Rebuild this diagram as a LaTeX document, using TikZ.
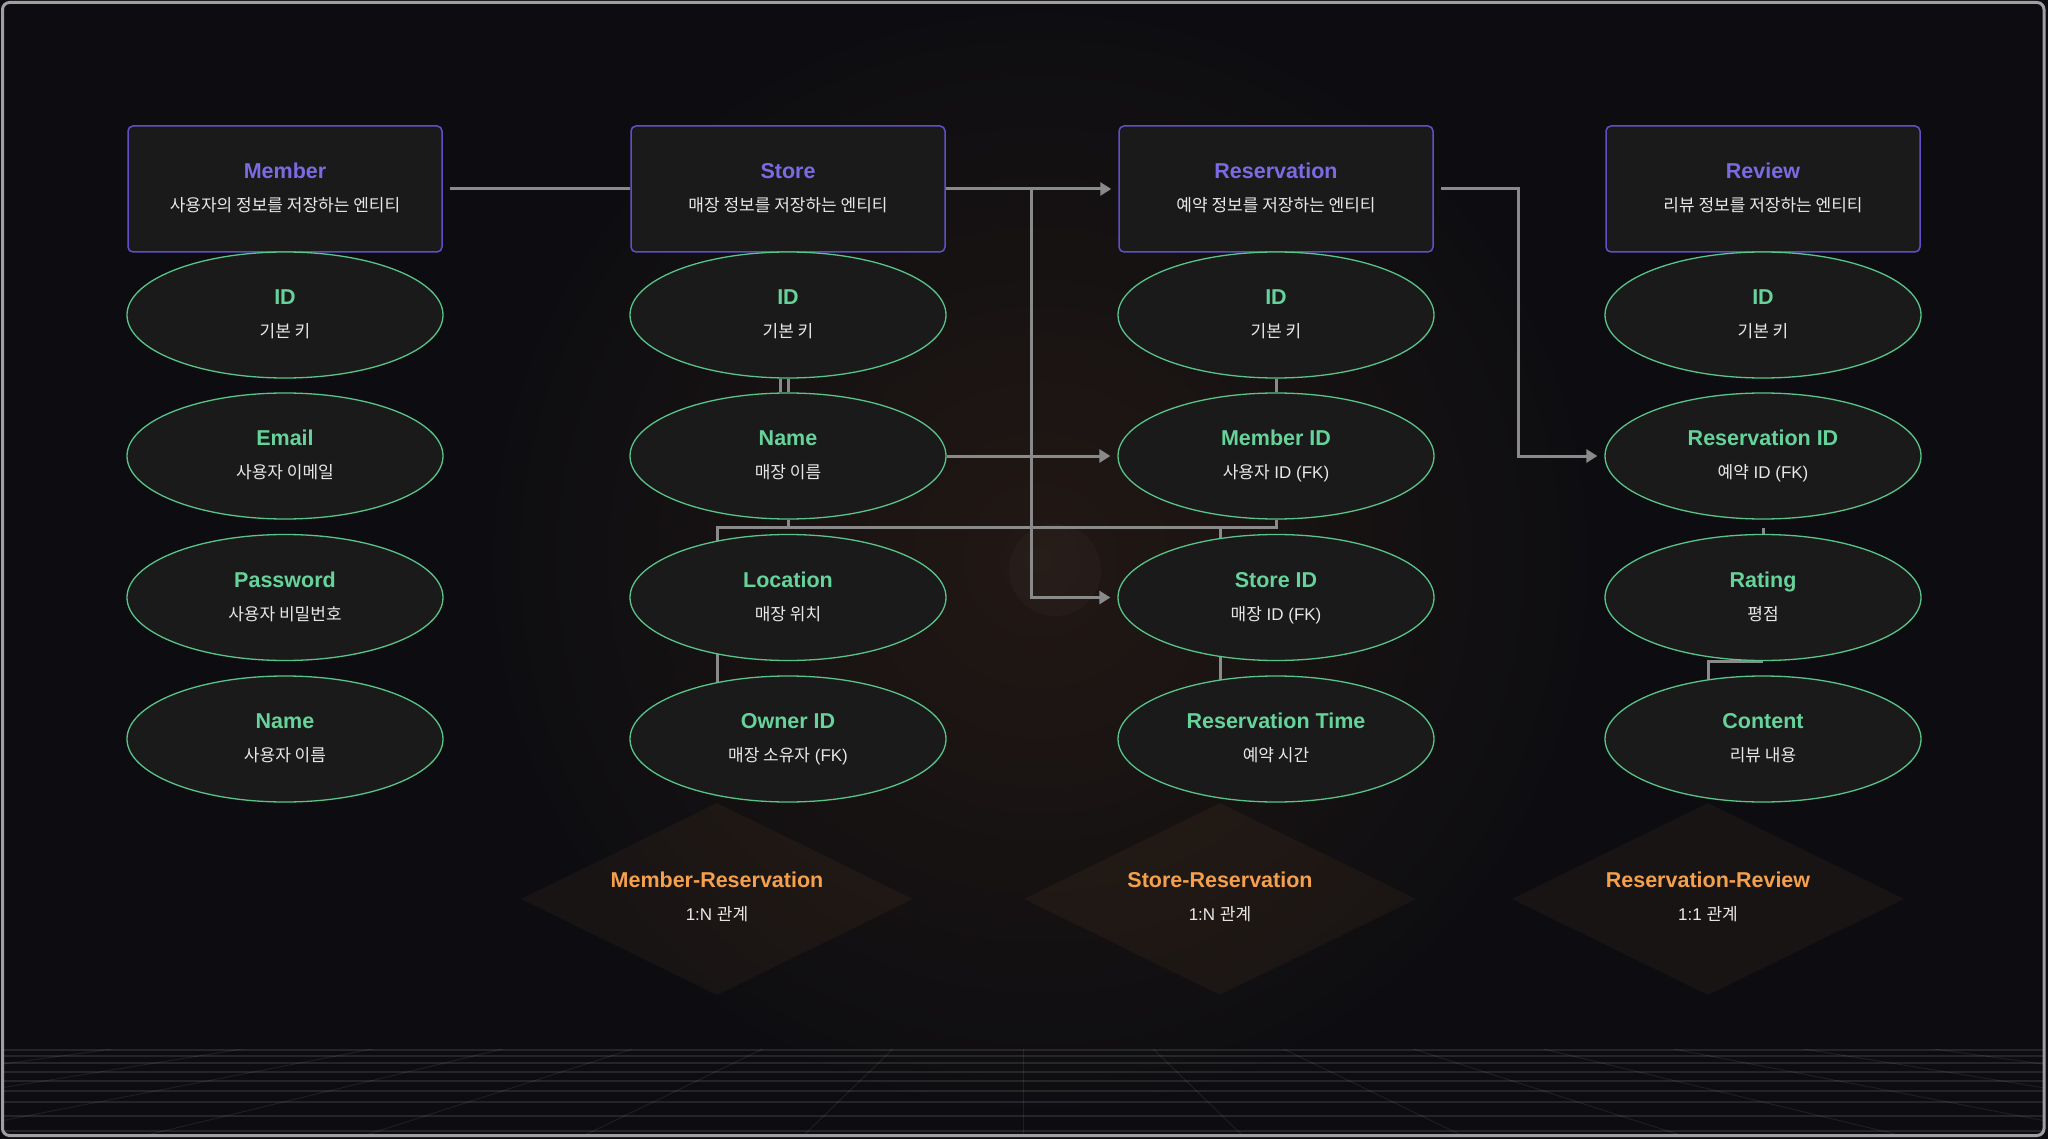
\documentclass[tikz,border=0pt]{standalone}
\usepackage{fontspec}
\setmainfont{Liberation Sans}
\newfontfamily\kr{Noto Sans CJK KR}
\usetikzlibrary{shapes.geometric,arrows.meta,calc}
\newcommand\K[1]{{\kr #1}}
\definecolor{bgc}{HTML}{0D0D11}
\definecolor{boxfill}{HTML}{1A1A1A}
\definecolor{purpb}{HTML}{5F50C8}
\definecolor{purpt}{HTML}{7B6BE3}
\definecolor{grnb}{HTML}{58C489}
\definecolor{grnt}{HTML}{66D39B}
\definecolor{edgec}{HTML}{8A8A8A}
\definecolor{orng}{HTML}{F4A04C}
\definecolor{subc}{HTML}{E8E8E8}
\definecolor{glow}{HTML}{221814}
\pgfdeclarelayer{bg}
\pgfdeclarelayer{edges}
\pgfsetlayers{bg,edges,main}
\tikzset{
  entity/.style={rectangle, rounded corners=5pt, draw=purpb, line width=1.5pt, fill=boxfill, minimum width=314pt, minimum height=126pt, inner sep=0pt},
  attr/.style={ellipse, draw=grnb, line width=1.3pt, fill=boxfill, minimum width=316pt, minimum height=126pt, inner sep=0pt},
  rel/.style={diamond, fill=orng, fill opacity=0.05, draw=none, minimum width=392pt, minimum height=192pt, inner sep=0pt},
  ttl/.style={anchor=base, font=\fontsize{21.5}{26}\selectfont\bfseries, inner sep=0pt},
  sub/.style={anchor=base, font=\fontsize{17}{21}\selectfont, text=subc, inner sep=0pt},
  conn/.style={draw=edgec, line width=3pt},
  arr/.style={conn, -{Triangle[length=11pt,width=13pt]}, shorten >=7pt},
}
\newcommand\ent[5]{%
  \node[entity] (#1) at (#2,#3) {};
  \node[ttl, text=purpt] (#1-t) at (#2,#3-10.3) {#4};
  \node[sub] (#1-s) at (#2,#3+22.5) {#5};}
\newcommand\att[5]{%
  \node[attr] (#1) at (#2,#3) {};
  \node[ttl, text=grnt] (#1-t) at (#2,#3-10.3) {#4};
  \node[sub] (#1-s) at (#2,#3+22.5) {#5};}
\newcommand\rel[5]{%
  \node[rel] (#1) at (#2,#3) {};
  \node[ttl, text=orng] (#1-t) at (#2,#3-11.3) {#4};
  \node[sub] (#1-s) at (#2,#3+21.5) {#5};}
\begin{document}
\begin{tikzpicture}[x=1pt,y=-1pt]
\useasboundingbox (0,0) rectangle (2048,1139);
\begin{pgfonlayer}{bg}
  \fill[bgc] (0,0) rectangle (2048,1139);
  \shade[inner color=glow, outer color=bgc] (1040,560) circle (560);
  \fill[white, opacity=0.025] (1055,570) circle (46);
  \begin{scope}
    \clip (3,1049) rectangle (2043,1134);
    \foreach \yy in {1050,1056,1063,1072,1081,1091,1102,1116,1131}
      \draw[white, opacity=0.1, line width=1.4pt] (0,\yy) -- (2048,\yy);
    \foreach \k in {-9,...,9}
      \draw[white, opacity=0.08, line width=0.9pt] (1023,923) -- (1023+\k*219,1135);
  \end{scope}
  \draw[color={rgb,255:red,160;green,160;blue,160}, line width=3pt, rounded corners=7pt] (2.5,2.5) rectangle (2044,1135.5);
\end{pgfonlayer}

% relationship diamonds
\rel{mr}{717}{899}{Member-Reservation}{1:N \K{관계}}
\rel{sr}{1220}{899}{Store-Reservation}{1:N \K{관계}}
\rel{rr}{1708}{899}{Reservation-Review}{1:1 \K{관계}}

% entities
\ent{member}{285}{189}{Member}{\K{사용자의 정보를 저장하는 엔티티}}
\ent{store}{788}{189}{Store}{\K{매장 정보를 저장하는 엔티티}}
\ent{resv}{1276}{189}{Reservation}{\K{예약 정보를 저장하는 엔티티}}
\ent{review}{1763}{189}{Review}{\K{리뷰 정보를 저장하는 엔티티}}

% member attributes
\att{m-id}{285}{315}{ID}{\K{기본 키}}
\att{m-email}{285}{456}{Email}{\K{사용자 이메일}}
\att{m-pw}{285}{597.5}{Password}{\K{사용자 비밀번호}}
\att{m-name}{285}{739}{Name}{\K{사용자 이름}}
% store attributes
\att{s-id}{788}{315}{ID}{\K{기본 키}}
\att{s-name}{788}{456}{Name}{\K{매장 이름}}
\att{s-loc}{788}{597.5}{Location}{\K{매장 위치}}
\att{s-owner}{788}{739}{Owner ID}{\K{매장 소유자} (FK)}
% reservation attributes
\att{r-id}{1276}{315}{ID}{\K{기본 키}}
\att{r-mid}{1276}{456}{Member ID}{\K{사용자} ID (FK)}
\att{r-sid}{1276}{597.5}{Store ID}{\K{매장} ID (FK)}
\att{r-time}{1276}{739}{Reservation Time}{\K{예약 시간}}
% review attributes
\att{v-id}{1763}{315}{ID}{\K{기본 키}}
\att{v-rid}{1763}{456}{Reservation ID}{\K{예약} ID (FK)}
\att{v-rating}{1763}{597.5}{Rating}{\K{평점}}
\att{v-content}{1763}{739}{Content}{\K{리뷰 내용}}

\begin{pgfonlayer}{edges}
  \draw[conn, shorten <=7pt] (member.east) -- (store.west);
  \draw[arr] (store.east) -- (resv.west);
  \coordinate (j1) at (1031.6,189);
  \draw[arr] (store.east) -- (j1) |- (r-sid.west);
  \draw[arr] (s-name.east) -- (r-mid.west);
  \draw[conn] (s-id.south) -- (s-name.north);
  \draw[conn] ($(s-id.south)+(-8,0)$) -- ($(s-name.north)+(-8,0)$);
  \draw[conn] (r-id.south) -- (r-mid.north);
  \coordinate (busA) at (717,527);
  \coordinate (busB) at (1220,527);
  \draw[conn] (s-name.south) |- (busB) -- (busB |- r-time.center);
  \draw[conn] (r-mid.south) |- (busA) -- (busA |- s-owner.center);
  \coordinate (j2) at (1518.6,189);
  \draw[arr, shorten <=7pt] (resv.east) -- (j2) |- (v-rid.west);
  \draw[conn, shorten <=8pt] (v-rid.south) -- (v-rating.north);
  \coordinate (j3) at ($(v-rating.south)+(-55,0)$);
  \draw[conn] (v-rating.south) -- (j3) -- (j3 |- v-content.center);
\end{pgfonlayer}
\end{tikzpicture}
\end{document}
